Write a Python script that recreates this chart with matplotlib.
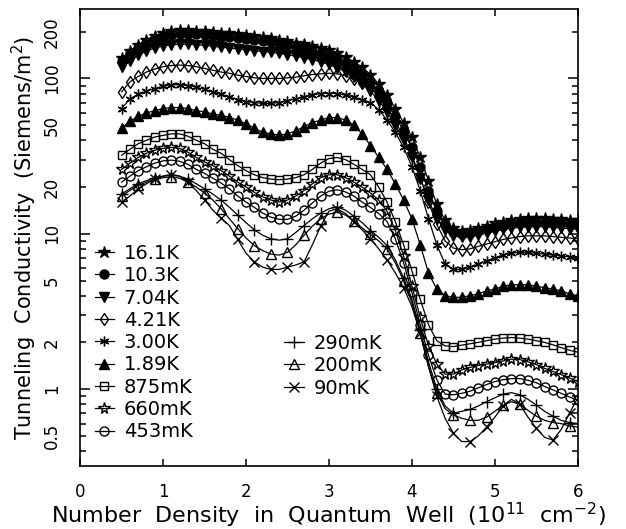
import numpy as np
import matplotlib
matplotlib.use("Agg")
import matplotlib.pyplot as plt
from matplotlib.ticker import FixedLocator, FuncFormatter

plt.rcParams['font.family'] = ['DejaVu Sans']
plt.rcParams['mathtext.fontset'] = 'dejavusans'

# density (10^11 cm^-2), shared sample grid
density = [0.5, 0.6, 0.7, 0.8, 0.9, 1.0, 1.1, 1.2, 1.3, 1.4,
           1.5, 1.6, 1.7, 1.8, 1.9, 2.0, 2.1, 2.2, 2.3, 2.4,
           2.5, 2.6, 2.7, 2.8, 2.9, 3.0, 3.1, 3.2, 3.3, 3.4,
           3.5, 3.6, 3.7, 3.8, 3.9, 4.0, 4.1, 4.2, 4.3, 4.4,
           4.5, 4.6, 4.7, 4.8, 4.9, 5.0, 5.1, 5.2, 5.3, 5.4,
           5.5, 5.6, 5.7, 5.8, 5.9, 6.0]

g_16K1 = [135, 150, 165, 178, 188, 196, 202, 205, 205, 203,
          201, 199, 197, 195, 193, 190, 188, 185, 182, 178,
          175, 170, 166, 162, 157, 152, 145, 137, 128, 118,
          106, 92, 78, 64, 52, 42, 31, 22, 15.5, 12.2,
          10.9, 10.5, 10.6, 10.9, 11.3, 11.7, 12.0, 12.3, 12.5, 12.6,
          12.6, 12.6, 12.5, 12.4, 12.3, 12.2]
g_10K3 = [130, 145, 158, 170, 179, 186, 191, 193, 193, 192,
          190, 188, 186, 184, 181, 179, 176, 174, 171, 168,
          164, 160, 156, 151, 146, 140, 133, 125, 116, 106,
          95, 82, 69, 57, 46, 36, 27, 19, 14, 11.5,
          10.3, 10.0, 10.1, 10.4, 10.7, 11.0, 11.3, 11.6, 11.8, 11.9,
          11.9, 11.9, 11.8, 11.7, 11.6, 11.5]
g_7K04 = [118, 130, 141, 150, 157, 162, 165, 166, 166, 165,
          163, 161, 159, 157, 155, 153, 151, 149, 147, 145,
          142, 139, 136, 132, 128, 123, 117, 110, 102, 93,
          83, 72, 61, 50, 40, 31, 23, 16.5, 12.5, 10.6,
          9.7, 9.5, 9.6, 9.8, 10.1, 10.4, 10.7, 10.9, 11.0, 11.1,
          11.1, 11.1, 11.0, 10.9, 10.8, 10.7]
g_4K21 = [82, 95, 103, 110, 115, 119, 121, 122, 121, 119,
          116, 113, 110, 108, 105, 103, 101, 100, 100, 100,
          101, 102, 104, 106, 107, 108, 107, 104, 99, 94,
          88, 77, 65, 53, 42, 32, 23, 16, 11.5, 9.0,
          8.1, 7.9, 8.0, 8.3, 8.6, 8.9, 9.2, 9.4, 9.6, 9.7,
          9.7, 9.7, 9.6, 9.5, 9.4, 9.3]
g_3K00 = [64, 74, 79, 83, 86, 89, 91, 91, 90, 88,
          85, 82, 79, 76, 73, 71, 70, 69, 69, 70,
          72, 74, 76, 78, 80, 80, 80, 78, 76, 73,
          70, 63, 54, 45, 36, 27, 19, 12.5, 8.5, 6.4,
          5.9, 5.9, 6.1, 6.4, 6.7, 7.0, 7.3, 7.5, 7.6, 7.6,
          7.5, 7.4, 7.3, 7.2, 7.1, 7.0]
g_1K89 = [48, 53, 57, 60, 62, 64, 65, 65, 64, 62,
          61, 59, 58, 56, 54, 51, 48, 45, 44, 43,
          44, 46, 49, 52, 54, 56, 56, 54, 50, 44,
          37, 31, 26, 21, 16.5, 12.5, 8.5, 5.6, 4.4, 4.0,
          3.9, 3.9, 4.0, 4.1, 4.3, 4.4, 4.6, 4.7, 4.7, 4.7,
          4.6, 4.5, 4.4, 4.3, 4.1, 4.0]
g_875mK = [32, 35, 38, 40, 42, 43, 44, 44, 42.5, 40,
           38, 35, 33, 30, 27.5, 25.5, 24, 23, 22.5, 22.3,
           22.5, 23, 24, 26, 28.5, 30.5, 31, 30, 28, 26,
           24, 20, 16, 12, 8.5, 5.8, 3.8, 2.6, 2.05, 1.9,
           1.88, 1.92, 1.96, 2.0, 2.05, 2.1, 2.13, 2.15, 2.13, 2.1,
           2.05, 2.0, 1.93, 1.85, 1.78, 1.73]
g_660mK = [26, 28.5, 31, 33, 34.5, 35.5, 36, 35.5, 33.5, 31,
           29, 27.5, 25.5, 23.5, 21.5, 20, 18.5, 17.3, 16.5, 16,
           16.5, 17.5, 19, 21, 23, 24, 24, 23, 21.5, 20,
           18.3, 16.5, 14, 10.5, 7.2, 4.6, 2.9, 1.9, 1.45, 1.25,
           1.25, 1.33, 1.38, 1.42, 1.45, 1.48, 1.52, 1.56, 1.55, 1.5,
           1.44, 1.36, 1.3, 1.24, 1.18, 1.12]
g_453mK = [21.5, 23.5, 25.5, 27, 28.5, 29.5, 29.8, 29.3, 28, 26,
           24.5, 22.8, 21.2, 19.5, 17.5, 16, 14.8, 13.6, 12.8, 12.4,
           12.4, 13, 14.2, 15.8, 17.5, 18.8, 19.2, 18.6, 17.5, 16,
           14.8, 13.5, 12, 9.3, 6.5, 4.2, 2.6, 1.65, 1.15, 0.93,
           0.92, 0.94, 0.97, 1.02, 1.07, 1.12, 1.15, 1.17, 1.17, 1.14,
           1.1, 1.04, 0.99, 0.94, 0.89, 0.85]
g_290mK = [18, 19.5, 21, 22, 23, 23.5, 24, 23.5, 22.5, 21,
           19.5, 18, 16.5, 14.8, 13.2, 11.8, 10.6, 9.8, 9.3, 9.1,
           9.3, 10.2, 11.3, 12.5, 13.6, 14.5, 14.9, 14.2, 13, 11.8,
           10.5, 9.5, 8.4, 6.8, 5.2, 3.8, 2.4, 1.5, 1.0, 0.78,
           0.7, 0.72, 0.74, 0.78, 0.83, 0.88, 0.93, 0.95, 0.92, 0.86,
           0.79, 0.72, 0.67, 0.63, 0.61, 0.6]
g_200mK = [17.5, 19, 20.5, 21.5, 22.5, 23, 23.3, 22.8, 21.5, 20,
           18.3, 16.5, 14.5, 12.5, 10.8, 9.4, 8.4, 7.8, 7.4, 7.3,
           7.6, 8.5, 9.8, 11.2, 12.5, 13.4, 13.8, 13.2, 12.1, 10.9,
           9.9, 9.0, 8.0, 6.5, 5.0, 3.6, 2.3, 1.4, 0.95, 0.75,
           0.68, 0.65, 0.63, 0.63, 0.66, 0.72, 0.79, 0.83, 0.8, 0.73,
           0.67, 0.63, 0.61, 0.6, 0.58, 0.57]
g_90mK = [16, 17.5, 19.5, 21, 22.5, 23.5, 24, 23.5, 21.5, 19,
          16.5, 14.2, 12.6, 11.3, 9.2, 7.5, 6.6, 6.1, 5.9, 5.9,
          6.1, 6.3, 6.6, 8.5, 11.2, 14, 14.5, 13.5, 12, 10.6,
          9.3, 8, 6.8, 5.6, 4.5, 3.4, 2.3, 1.4, 0.9, 0.65,
          0.52, 0.46, 0.46, 0.5, 0.57, 0.66, 0.78, 0.86, 0.8, 0.66,
          0.56, 0.49, 0.47, 0.55, 0.7, 0.88]

labels = ['16.1K', '10.3K', '7.04K', '4.21K', '3.00K', '1.89K',
          '875mK', '660mK', '453mK', '290mK', '200mK', '90mK']
series = [g_16K1, g_10K3, g_7K04, g_4K21, g_3K00, g_1K89,
          g_875mK, g_660mK, g_453mK, g_290mK, g_200mK, g_90mK]

# marker, size, filled, markevery
styles = [('*', 9, True, 1), ('o', 6.5, True, 1), ('v', 7, True, 1),
          ('d', 6.5, False, 1), ((6, 2, 0), 7, False, 1), ('^', 7, True, 1),
          ('s', 6, False, 1), ('*', 8.5, False, 1), ('o', 6.5, False, 1),
          ('+', 8, False, 2), ('^', 6.5, False, 2), ('x', 6.5, False, 2)]

fig = plt.figure(figsize=(6.26, 5.29), dpi=100)
ax = fig.add_axes([0.128, 0.119, 0.795, 0.864])

handles = []
for vals, lab, (mk, ms, filled, every) in zip(series, labels, styles):
    h, = ax.plot(density, vals, color='black', lw=0.9, marker=mk, ms=ms,
                 markevery=every, mfc='black' if filled else 'none',
                 mec='black', mew=1.0, label=lab)
    handles.append(h)

ax.set_yscale('log')
ax.set_xlim(0, 6)
ax.set_ylim(0.32, 280)

ax.set_xticks([0, 1, 2, 3, 4, 5, 6])
ax.yaxis.set_major_locator(FixedLocator([1, 10, 100]))
ax.yaxis.set_minor_locator(FixedLocator(
    [m * 10.0 ** e for e in (-1, 0, 1, 2) for m in range(2, 10)]))


def fmt(v, pos):
    e = int(np.floor(np.log10(v) + 1e-9))
    m = round(v / 10.0 ** e)
    if m in (1, 2, 5):
        return ('%g' % v)
    return ''


ax.yaxis.set_major_formatter(FuncFormatter(fmt))
ax.yaxis.set_minor_formatter(FuncFormatter(fmt))

ax.tick_params(axis='x', which='major', direction='in', length=5, width=1.1,
               top=True, pad=12, labelsize=12)
ax.tick_params(axis='y', which='major', direction='in', length=7, width=1.1,
               right=True, pad=14, labelsize=12, labelrotation=90)
ax.tick_params(axis='y', which='minor', direction='in', length=4, width=1.1,
               right=True, pad=14, labelsize=12, labelrotation=90)
for lbl in ax.get_yticklabels(which='both'):
    lbl.set_va('center')
for s in ax.spines.values():
    s.set_linewidth(1.2)

ax.set_xlabel('Number  Density  in  Quantum  Well  (10$^{11}$  cm$^{-2}$)',
              fontsize=16, labelpad=0)
ax.set_ylabel('Tunneling  Conductivity  (Siemens/m$^{2}$)', fontsize=15,
              labelpad=3)

leg1 = ax.legend(handles[:9], labels[:9], loc='upper left',
                 bbox_to_anchor=(0.029, 0.486), frameon=False, fontsize=14,
                 handlelength=1.0, handletextpad=0.5, labelspacing=0.17,
                 numpoints=1, borderaxespad=0, borderpad=0)
ax.add_artist(leg1)
ax.legend(handles[9:], labels[9:], loc='upper left',
          bbox_to_anchor=(0.41, 0.289), frameon=False, fontsize=14,
          handlelength=1.0, handletextpad=0.5, labelspacing=0.17,
          numpoints=1, borderaxespad=0, borderpad=0)

fig.savefig('out.png', dpi=100)
